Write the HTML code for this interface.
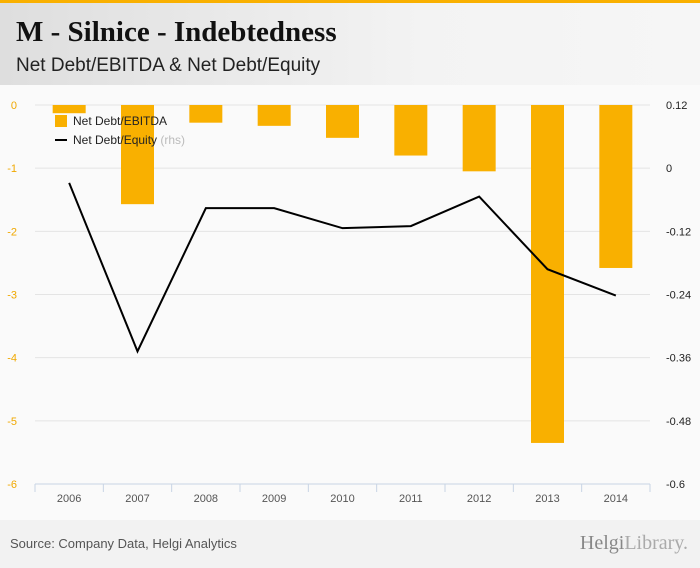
<!DOCTYPE html>
<html><head><meta charset="utf-8"><style>
body{margin:0;width:700px;height:568px;overflow:hidden;background:#fafafa;font-family:"Liberation Sans",sans-serif}
#hdr{position:absolute;left:0;top:0;width:700px;height:85px;background:linear-gradient(90deg,#dedede,#f3f3f3 60%,#f6f6f6);border-top:3px solid #f9b000;box-sizing:border-box}
#title{position:absolute;left:16px;top:13px;font:bold 29px "Liberation Serif",serif;color:#111}
#sub{position:absolute;left:16px;top:52px;font:19px "Liberation Sans",sans-serif;color:#222}
#foot{position:absolute;left:0;top:520px;width:700px;height:48px;background:#f2f2f2}
#src{position:absolute;left:10px;top:536px;font-size:13px;color:#555}
#logo{position:absolute;right:12px;top:532px;font:20px "Liberation Serif",serif;color:#888}
svg{position:absolute;left:0;top:0}
</style></head><body>
<div id="hdr">
<div id="title">M - Silnice - Indebtedness</div>
<div id="sub">Net Debt/EBITDA &amp; Net Debt/Equity</div></div>
<div id="foot"></div>
<div id="src">Source: Company Data, Helgi Analytics</div>
<div id="logo">Helgi<span style="color:#aaa">Library.</span></div>
<svg id="c" width="700" height="568"></svg>
<script>
const categories=["2006","2007","2008","2009","2010","2011","2012","2013","2014"];
const ebitda=[-0.13,-1.57,-0.28,-0.33,-0.52,-0.8,-1.05,-5.35,-2.58];
const equity=[-0.028,-0.348,-0.076,-0.076,-0.114,-0.110,-0.054,-0.192,-0.242];
const leftTicks=[0,-1,-2,-3,-4,-5,-6];
const rightTicks=["0.12","0","-0.12","-0.24","-0.36","-0.48","-0.6"];
const NS="http://www.w3.org/2000/svg",svg=document.getElementById('c');
const x0=35,x1=650,y0=105,y1=484,step=(x1-x0)/categories.length;
const yL=v=>y0+(0-v)/6*(y1-y0);
const yR=v=>y0+(0.12-v)/0.72*(y1-y0);
const xc=i=>x0+step*(i+0.5);
function mk(t,a,txt){const e=document.createElementNS(NS,t);for(const k in a)e.setAttribute(k,a[k]);if(txt!=null)e.textContent=txt;svg.appendChild(e);return e;}
leftTicks.forEach((v,i)=>{
 const g=mk('line',{x1:x0,x2:x1,y1:yL(v),y2:yL(v),stroke:'#e4e4e4'});
 
 
 const t=mk('text',{x:17,y:yL(v)+4,'text-anchor':'end','font-size':11,fill:'#f0a800'},String(v));
 
 
 const r=mk('text',{x:666,y:yL(v)+4,'font-size':11,fill:'#222'},rightTicks[i]);
 
 
});
const ax=mk('line',{x1:x0,x2:x1,y1:y1,y2:y1,stroke:'#c8d4e4'});


for(let i=0;i<=categories.length;i++){const tk=mk('line',{x1:x0+step*i,x2:x0+step*i,y1:y1,y2:y1+8,stroke:'#c8d4e4'});
 
 }
categories.forEach((c,i)=>{
 const t=mk('text',{x:xc(i),y:502,'text-anchor':'middle','font-size':11,fill:'#555'},c);
 
 
 const b=mk('rect',{x:xc(i)-16.5,y:yL(0),width:33,height:yL(ebitda[i])-yL(0),fill:'#f9b000'});
 
 
});
const ln=mk('polyline',{points:equity.map((v,i)=>xc(i)+','+yR(v)).join(' '),fill:'none',stroke:'#000','stroke-width':2});


const l1=mk('rect',{x:55,y:115,width:12,height:12,fill:'#f9b000'});


const l1t=mk('text',{x:73,y:125,'font-size':12,fill:'#222'},'Net Debt/EBITDA');


const l2=mk('line',{x1:55,x2:67,y1:140,y2:140,stroke:'#000','stroke-width':2});


const l2t=mk('text',{x:73,y:144,'font-size':12,fill:'#222'},'Net Debt/Equity ');


const ts=document.createElementNS(NS,'tspan');ts.setAttribute('fill','#bbb');ts.textContent='(rhs)';l2t.appendChild(ts);
</script></body></html>
